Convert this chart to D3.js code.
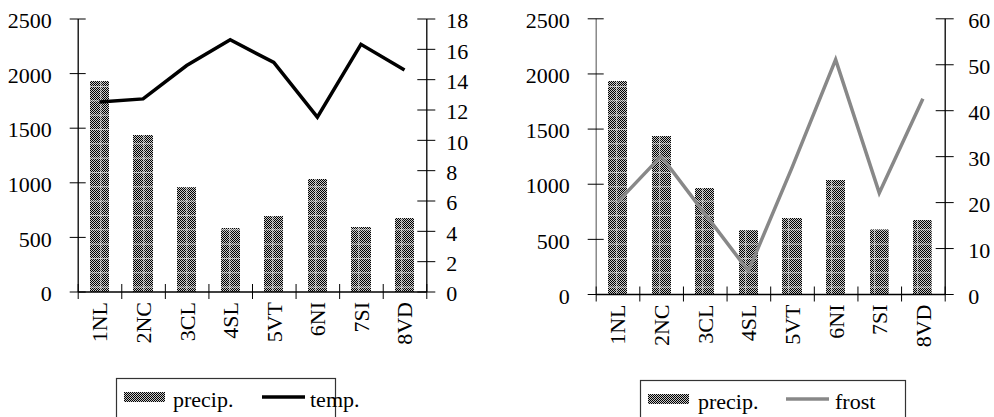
<!DOCTYPE html>
<html lang="en">
<head>
<meta charset="UTF-8">
<title>precip / temp / frost</title>
<style>
    body { margin: 0; background: #fff; }
    svg { display: block; }
    .lbl { font-family: "Liberation Serif", "Times New Roman", serif; font-size: 22px; fill: #000; }
</style>
</head>
<body>
<div id="workspace"></div>
<script src="https://cdn.jsdelivr.net/npm/d3@7/dist/d3.min.js"></script>
<script>
    // data
    const regions = ["1NL", "2NC", "3CL", "4SL", "5VT", "6NI", "7SI", "8VD"];
    const precip = [1930, 1432, 958, 578, 687, 1030, 590, 673];
    const temp = [12.5, 12.7, 14.9, 16.6, 15.1, 11.5, 16.3, 14.6];
    const frost = [20, 30, 17.5, 5, 27.5, 51, 22, 42.5];
    const precipTicks = [0, 500, 1000, 1500, 2000, 2500];
    const tempTicks = [0, 2, 4, 6, 8, 10, 12, 14, 16, 18];
    const frostTicks = [0, 10, 20, 30, 40, 50, 60];

    const svg = d3.select("#workspace").append("svg")
        .attr("width", 994)
        .attr("height", 417);

    // dotted bar fill + faint white grid
    const defs = svg.append("defs");
    const dots = defs.append("pattern").attr("id", "dots")
        .attr("patternUnits", "userSpaceOnUse")
        .attr("width", 2).attr("height", 2);
    dots.append("rect").attr("width", 2).attr("height", 2).attr("fill", "#c8c8c8");
    dots.append("rect").attr("width", 1).attr("height", 1).attr("fill", "#000");
    dots.append("rect").attr("x", 1).attr("y", 1).attr("width", 1).attr("height", 1).attr("fill", "#000");
    const grid = defs.append("pattern").attr("id", "grid")
        .attr("patternUnits", "userSpaceOnUse")
        .attr("width", 14.33).attr("height", 14.33);
    grid.append("rect").attr("width", 14.33).attr("height", 1).attr("fill", "#fff").attr("opacity", 0.6);
    grid.append("rect").attr("width", 1).attr("height", 14.33).attr("fill", "#fff").attr("opacity", 0.6);

    const fmt = d3.format("d");

    const drawChart = (c) => {
        const g = svg.append("g");
        const x = d3.scaleBand().domain(regions).range([c.x0, c.x1]).paddingInner(0.56).paddingOuter(0.28);
        const xEdges = d3.scaleLinear().domain([0, regions.length]).range([c.x0, c.x1]);
        const yL = d3.scaleLinear().domain([0, 2500]).range([c.yBot, c.yTop]);
        const yR = d3.scaleLinear().domain(c.rDomain).range([c.yBot, c.yTop]);

        // bars
        const bars = g.append("g");
        ["url(#dots)", "url(#grid)"].forEach(f => {
            bars.selectAll(null).data(precip).enter().append("rect")
                .attr("x", (d, i) => x(regions[i]))
                .attr("y", d => yL(d))
                .attr("width", x.bandwidth())
                .attr("height", d => c.yBot - yL(d))
                .attr("fill", f)
                .attr("shape-rendering", "crispEdges");
        });

        // left axis
        const la = g.append("g").attr("transform", `translate(${c.x0},0)`)
            .call(d3.axisLeft(yL).tickValues(precipTicks).tickFormat(fmt).tickSizeOuter(0));
        la.select(".domain").attr("stroke", c.leftAxisColor).attr("stroke-width", 1.3);
        la.selectAll(".tick line").attr("x1", -8).attr("x2", 8).attr("stroke", "#000");
        la.selectAll(".tick text").attr("class", "lbl").attr("x", -c.leftPad).attr("dy", "0.42em");

        // right axis
        const ra = g.append("g").attr("transform", `translate(${c.x1},0)`)
            .call(d3.axisRight(yR).tickValues(c.rTicks).tickFormat(fmt).tickSizeOuter(0));
        ra.select(".domain").attr("stroke", "#000").attr("stroke-width", 1.3);
        ra.selectAll(".tick line").attr("x1", -9).attr("x2", 9).attr("stroke", "#000");
        ra.selectAll(".tick text").attr("class", "lbl").attr("x", c.rightPad).attr("dy", "0.42em");

        // bottom axis: edge ticks + rotated labels
        const ba = g.append("g").attr("transform", `translate(0,${c.yBot})`)
            .call(d3.axisBottom(xEdges).tickValues(d3.range(regions.length + 1)).tickFormat("").tickSizeOuter(0));
        ba.select(".domain").attr("stroke", "#000").attr("stroke-width", 1.3);
        ba.selectAll(".tick line").attr("y1", -7.5).attr("y2", 7.5).attr("stroke", "#000");
        const bl = g.append("g").attr("transform", `translate(0,${c.yBot})`)
            .call(d3.axisBottom(x).tickSize(0));
        bl.select(".domain").remove();
        bl.selectAll(".tick text").attr("class", "lbl")
            .attr("transform", "rotate(-90)")
            .attr("text-anchor", "end")
            .attr("x", -10.5).attr("y", 0).attr("dy", "0.36em");

        // line series
        const line = d3.line()
            .x((d, i) => x(regions[i]) + x.bandwidth() / 2)
            .y(d => yR(d));
        g.append("path").datum(c.series)
            .attr("d", line)
            .attr("fill", "none")
            .attr("stroke", c.lineColor)
            .attr("stroke-width", 3.5)
            .attr("stroke-linejoin", "miter");

        // legend
        const lg = g.append("g");
        lg.append("rect").attr("x", c.leg.x).attr("y", c.leg.y)
            .attr("width", c.leg.w).attr("height", 60)
            .attr("fill", "none").attr("stroke", "#333").attr("stroke-width", 1.2);
        lg.append("rect").attr("x", c.leg.sw).attr("y", c.leg.y + 13)
            .attr("width", 41).attr("height", 10).attr("fill", "url(#dots)")
            .attr("shape-rendering", "crispEdges");
        lg.append("text").attr("class", "lbl").attr("x", c.leg.t1).attr("y", c.leg.y + 28).text("precip.");
        lg.append("line").attr("x1", c.leg.l0).attr("x2", c.leg.l0 + 43)
            .attr("y1", c.leg.y + 18.5).attr("y2", c.leg.y + 18.5)
            .attr("stroke", c.lineColor).attr("stroke-width", 3.5);
        lg.append("text").attr("class", "lbl").attr("x", c.leg.t2).attr("y", c.leg.y + 28).text(c.name);
    };

    drawChart({
        x0: 77.7, x1: 426.3, yTop: 18.5, yBot: 291.5,
        rDomain: [0, 18], rTicks: tempTicks, series: temp, name: "temp.",
        lineColor: "#000", leftAxisColor: "#000", leftPad: 26, rightPad: 20,
        leg: { x: 116.5, y: 378.5, w: 219, sw: 124, t1: 173, l0: 262, t2: 310 }
    });
    drawChart({
        x0: 595.7, x1: 944.7, yTop: 18.3, yBot: 294,
        rDomain: [0, 60], rTicks: frostTicks, series: frost, name: "frost",
        lineColor: "#888", leftAxisColor: "#777", leftPad: 26, rightPad: 23.5,
        leg: { x: 640.5, y: 380.5, w: 265, sw: 648, t1: 698, l0: 786, t2: 835 }
    });
</script>
</body>
</html>
